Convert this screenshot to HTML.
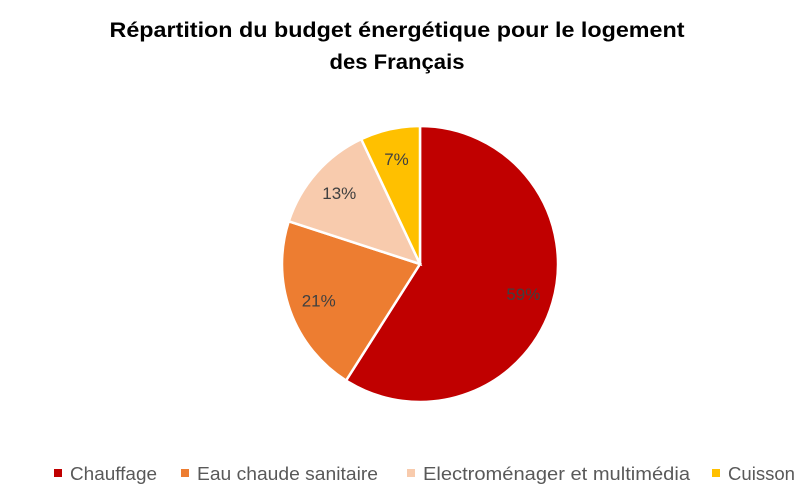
<!DOCTYPE html>
<html><head><meta charset="utf-8">
<style>
body{margin:0;background:#fff;font-family:"Liberation Sans",sans-serif;}
#c{width:812px;height:500px;position:relative;overflow:hidden;}
</style></head>
<body>
<div id="c">
<svg id="s" width="812" height="500">
<text x="397" y="37" text-anchor="middle" font-size="21" font-weight="bold" fill="#000" textLength="575" lengthAdjust="spacingAndGlyphs">Répartition du budget énergétique pour le logement</text>
<text x="397" y="69" text-anchor="middle" font-size="21" font-weight="bold" fill="#000" textLength="135" lengthAdjust="spacingAndGlyphs">des Français</text>
<g id="slices"></g>
<g id="labels"></g>
<g id="legend"></g>
</svg>
</div>
<script>
const categories=["Chauffage","Eau chaude sanitaire","Electroménager et multimédia","Cuisson"];
const values=[59,21,13,7];
const valueLabels=["59%","21%","13%","7%"];
const colors=["#C00000","#ED7D31","#F8CBAD","#FFC000"];
const NS="http://www.w3.org/2000/svg";
const cx=420,cy=264,r=138;
const total=values.reduce((a,b)=>a+b,0);
const sl=document.getElementById('slices'),lb=document.getElementById('labels'),lg=document.getElementById('legend');
function pt(a,rr){return [cx+rr*Math.sin(a),cy-rr*Math.cos(a)];}
let acc=0;
values.forEach((v,i)=>{
  const a0=acc/total*2*Math.PI;acc+=v;const a1=acc/total*2*Math.PI;
  const p0=pt(a0,r),p1=pt(a1,r);
  const large=(a1-a0)>Math.PI?1:0;
  const p=document.createElementNS(NS,'path');
  p.setAttribute('d',`M${cx},${cy}L${p0[0]},${p0[1]}A${r},${r} 0 ${large} 1 ${p1[0]},${p1[1]}Z`);
  p.setAttribute('fill',colors[i]);p.setAttribute('stroke','#fff');p.setAttribute('stroke-width','2.5');
  
  
  sl.appendChild(p);
  const m=(a0+a1)/2;const lp=pt(m,r*0.78);
  const t=document.createElementNS(NS,'text');
  t.setAttribute('x',lp[0]);t.setAttribute('y',lp[1]+6);t.setAttribute('text-anchor','middle');
  t.setAttribute('font-size','17');t.setAttribute('fill','#404040');
  t.textContent=valueLabels[i];
  
  
  lb.appendChild(t);
});
const legX=[58,185,411,716];
const legW=[87,181,267,67];
categories.forEach((c,i)=>{
  const g=document.createElementNS(NS,'g');
  
  
  const r2=document.createElementNS(NS,'rect');
  r2.setAttribute('x',legX[i]-4);r2.setAttribute('y',469);r2.setAttribute('width',8);r2.setAttribute('height',8);r2.setAttribute('fill',colors[i]);
  const t=document.createElementNS(NS,'text');
  t.setAttribute('x',legX[i]+12);t.setAttribute('y',480);t.setAttribute('font-size','18');t.setAttribute('fill','#595959');
  t.setAttribute('textLength',legW[i]);t.setAttribute('lengthAdjust','spacingAndGlyphs');
  t.textContent=c;
  g.appendChild(r2);g.appendChild(t);lg.appendChild(g);
});
</script>
</body></html>
